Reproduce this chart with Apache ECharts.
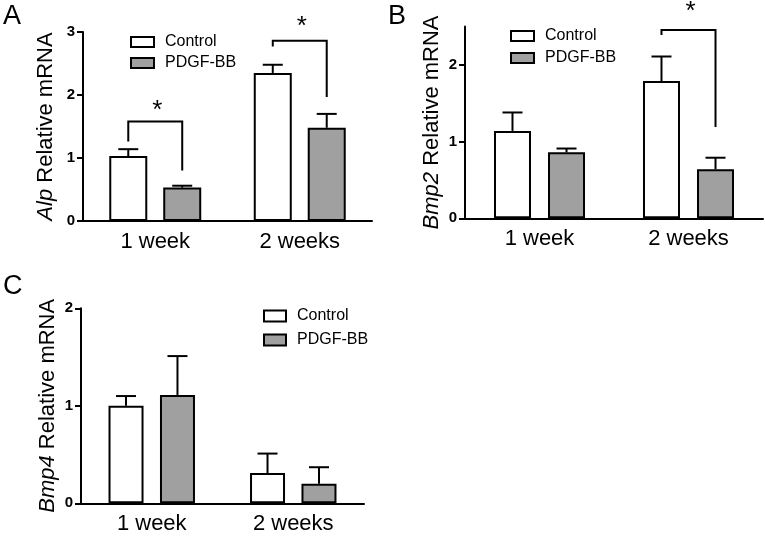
<!DOCTYPE html>
<html>
<head>
<meta charset="utf-8">
<script src="https://cdn.jsdelivr.net/npm/echarts@6/dist/echarts.min.js"></script>
<style>
html,body{margin:0;padding:0;background:#fff;}
#chart{width:765px;height:537px;}
</style>
</head>
<body>
<div id="chart"></div>
<script>
// ---- data ----
const categories = ['1 week', '2 weeks'];
const seriesNames = ['Control', 'PDGF-BB'];

// Panel A: Alp
const alpControl = [1.03, 2.35];
const alpControlErr = [0.11, 0.13];
const alpPdgf = [0.53, 1.48];
const alpPdgfErr = [0.03, 0.22];
// brackets: [category, leftLegBottom, top, rightLegBottom, starValue]
const alpBrackets = [[0, 1.26, 1.58, 0.80, 1.81], [1, 2.77, 2.86, 1.97, 3.14]];

// Panel B: Bmp2
const bmp2Control = [1.14, 1.79];
const bmp2ControlErr = [0.24, 0.32];
const bmp2Pdgf = [0.86, 0.64];
const bmp2PdgfErr = [0.05, 0.15];
const bmp2Brackets = [[1, 2.39, 2.455, 1.19, 2.74]];

// Panel C: Bmp4
const bmp4Control = [1.00, 0.31];
const bmp4ControlErr = [0.10, 0.20];
const bmp4Pdgf = [1.11, 0.20];
const bmp4PdgfErr = [0.40, 0.17];
const bmp4Brackets = [];

// y tick labels
const alpTicks = [0, 1, 2, 3];
const bmp2Ticks = [0, 1, 2];
const bmp4Ticks = [0, 1, 2];

// ---- styling ----
const FONT = '"Liberation Sans", Arial, sans-serif';
const GRAY = '#a0a0a0';

const panels = [
  {grid:{left:83, top:32, width:289, height:189}, max:3, ticks:alpTicks, gene:'Alp', gap:26,
   control:alpControl, controlErr:alpControlErr, pdgf:alpPdgf, pdgfErr:alpPdgfErr, brackets:alpBrackets,
   barW:38, barGap:0.42, legend:{left:130, top:34, itemGap:5, itemWidth:23, itemHeight:10}},
  {grid:{left:465, top:26.6, width:298, height:191.7}, max:2.5, ticks:bmp2Ticks, gene:'Bmp2', gap:22,
   control:bmp2Control, controlErr:bmp2ControlErr, pdgf:bmp2Pdgf, pdgfErr:bmp2PdgfErr, brackets:bmp2Brackets,
   barW:37, barGap:0.46, legend:{left:510, top:28, itemGap:6, itemWidth:23, itemHeight:10}},
  {grid:{left:81, top:308.3, width:283, height:195}, max:2, ticks:bmp4Ticks, gene:'Bmp4', gap:22,
   control:bmp4Control, controlErr:bmp4ControlErr, pdgf:bmp4Pdgf, pdgfErr:bmp4PdgfErr, brackets:bmp4Brackets,
   barW:35, barGap:0.47, legend:{left:263, top:308, itemGap:8, itemWidth:22, itemHeight:11}}
];

const grids = [], xAxes = [], yAxes = [], series = [], legends = [];

panels.forEach((p, k) => {
  grids.push(Object.assign({containLabel:false}, p.grid));
  xAxes.push({
    type:'category', gridIndex:k, data:categories,
    axisLine:{show:true, lineStyle:{color:'#000', width:2}},
    axisTick:{show:false},
    axisLabel:{color:'#000', fontSize:22, fontFamily:FONT, margin:10},
    splitLine:{show:false}
  });
  const ticks = p.ticks;
  yAxes.push({
    type:'value', gridIndex:k, min:0, max:p.max, interval:1,
    name:'{i|' + p.gene + '} Relative mRNA', nameLocation:'middle', nameGap:p.gap,
    nameTextStyle:{color:'#000', fontSize:22, fontFamily:FONT,
      rich:{i:{fontStyle:'italic', fontSize:22, fontFamily:FONT, color:'#000'}}},
    axisLine:{show:true, lineStyle:{color:'#000', width:2}},
    axisTick:{show:true, length:6, lineStyle:{color:'#000', width:2}, customValues:ticks},
    axisLabel:{show:true, color:'#000', fontSize:15, fontWeight:'bold', fontFamily:FONT, margin:8,
      formatter:(v) => ticks.indexOf(+v) >= 0 ? String(v) : ''},
    splitLine:{show:false}
  });
  const offset = p.barW * (1 + p.barGap) / 2;
  series.push({
    type:'bar', name:seriesNames[0], xAxisIndex:k, yAxisIndex:k, data:p.control,
    barWidth:p.barW, barGap:(p.barGap*100)+'%',
    itemStyle:{color:'#fff', borderColor:'#000', borderWidth:2}, silent:true
  });
  series.push({
    type:'bar', name:seriesNames[1], xAxisIndex:k, yAxisIndex:k, data:p.pdgf,
    barWidth:p.barW, barGap:(p.barGap*100)+'%',
    itemStyle:{color:GRAY, borderColor:'#000', borderWidth:2}, silent:true
  });
  [[p.control, p.controlErr, -1], [p.pdgf, p.pdgfErr, 1]].forEach(([m, e, sign]) => {
    series.push({
      type:'custom', xAxisIndex:k, yAxisIndex:k, silent:true, z:3,
      encode:{x:0, y:[1, 2]},
      data:m.map((v, i) => [i, v, v + e[i]]),
      renderItem:(params, api) => {
        const base = api.coord([api.value(0), api.value(1)]);
        const top = api.coord([api.value(0), api.value(2)]);
        const x = base[0] + sign * offset;
        const cap = 20;
        return {type:'group', children:[
          {type:'line', shape:{x1:x, y1:base[1], x2:x, y2:top[1]}, style:{stroke:'#000', lineWidth:2}},
          {type:'line', shape:{x1:x - cap/2, y1:top[1], x2:x + cap/2, y2:top[1]}, style:{stroke:'#000', lineWidth:2}}
        ]};
      }
    });
  });
  if (p.brackets.length) {
    series.push({
      type:'custom', xAxisIndex:k, yAxisIndex:k, silent:true, z:3, clip:false,
      encode:{x:0, y:[1, 2, 3]},
      data:p.brackets,
      renderItem:(params, api) => {
        const c = api.value(0);
        const t = api.coord([c, api.value(2)]);
        const lb = api.coord([c, api.value(1)]);
        const rb = api.coord([c, api.value(3)]);
        const s = api.coord([c, api.value(4)]);
        const xl = t[0] - offset, xr = t[0] + offset;
        return {type:'group', children:[
          {type:'polyline', shape:{points:[[xl, lb[1]], [xl, t[1]], [xr, t[1]], [xr, rb[1]]]},
           style:{stroke:'#000', lineWidth:2, fill:null}},
          {type:'text', x:t[0] + 2, y:s[1] + 4,
           style:{text:'*', fontSize:26, fontFamily:FONT, fill:'#000', textAlign:'center', textVerticalAlign:'middle'}}
        ]};
      }
    });
  }
  legends.push({
    data:seriesNames, orient:'vertical', left:p.legend.left, top:p.legend.top, padding:0,
    itemGap:p.legend.itemGap, itemWidth:p.legend.itemWidth, itemHeight:p.legend.itemHeight,
    icon:'rect', selectedMode:false,
    itemStyle:{borderColor:'#000', borderWidth:2},
    textStyle:{color:'#000', fontSize:16, fontFamily:FONT, lineHeight:16, padding:[0,0,0,6]}
  });
});

const chart = echarts.init(document.getElementById('chart'), null, {renderer:'canvas'});
const titleStyle = {fontSize:27, fontWeight:'normal', color:'#000', fontFamily:FONT};
chart.setOption({
  backgroundColor:'#fff',
  animation:false,
  title:[
    {text:'A', left:3, top:3, padding:0, textStyle:titleStyle},
    {text:'B', left:388, top:3, padding:0, textStyle:titleStyle},
    {text:'C', left:3, top:273, padding:0, textStyle:titleStyle}
  ],
  grid:grids, xAxis:xAxes, yAxis:yAxes, legend:legends, series:series
});
</script>
</body>
</html>
